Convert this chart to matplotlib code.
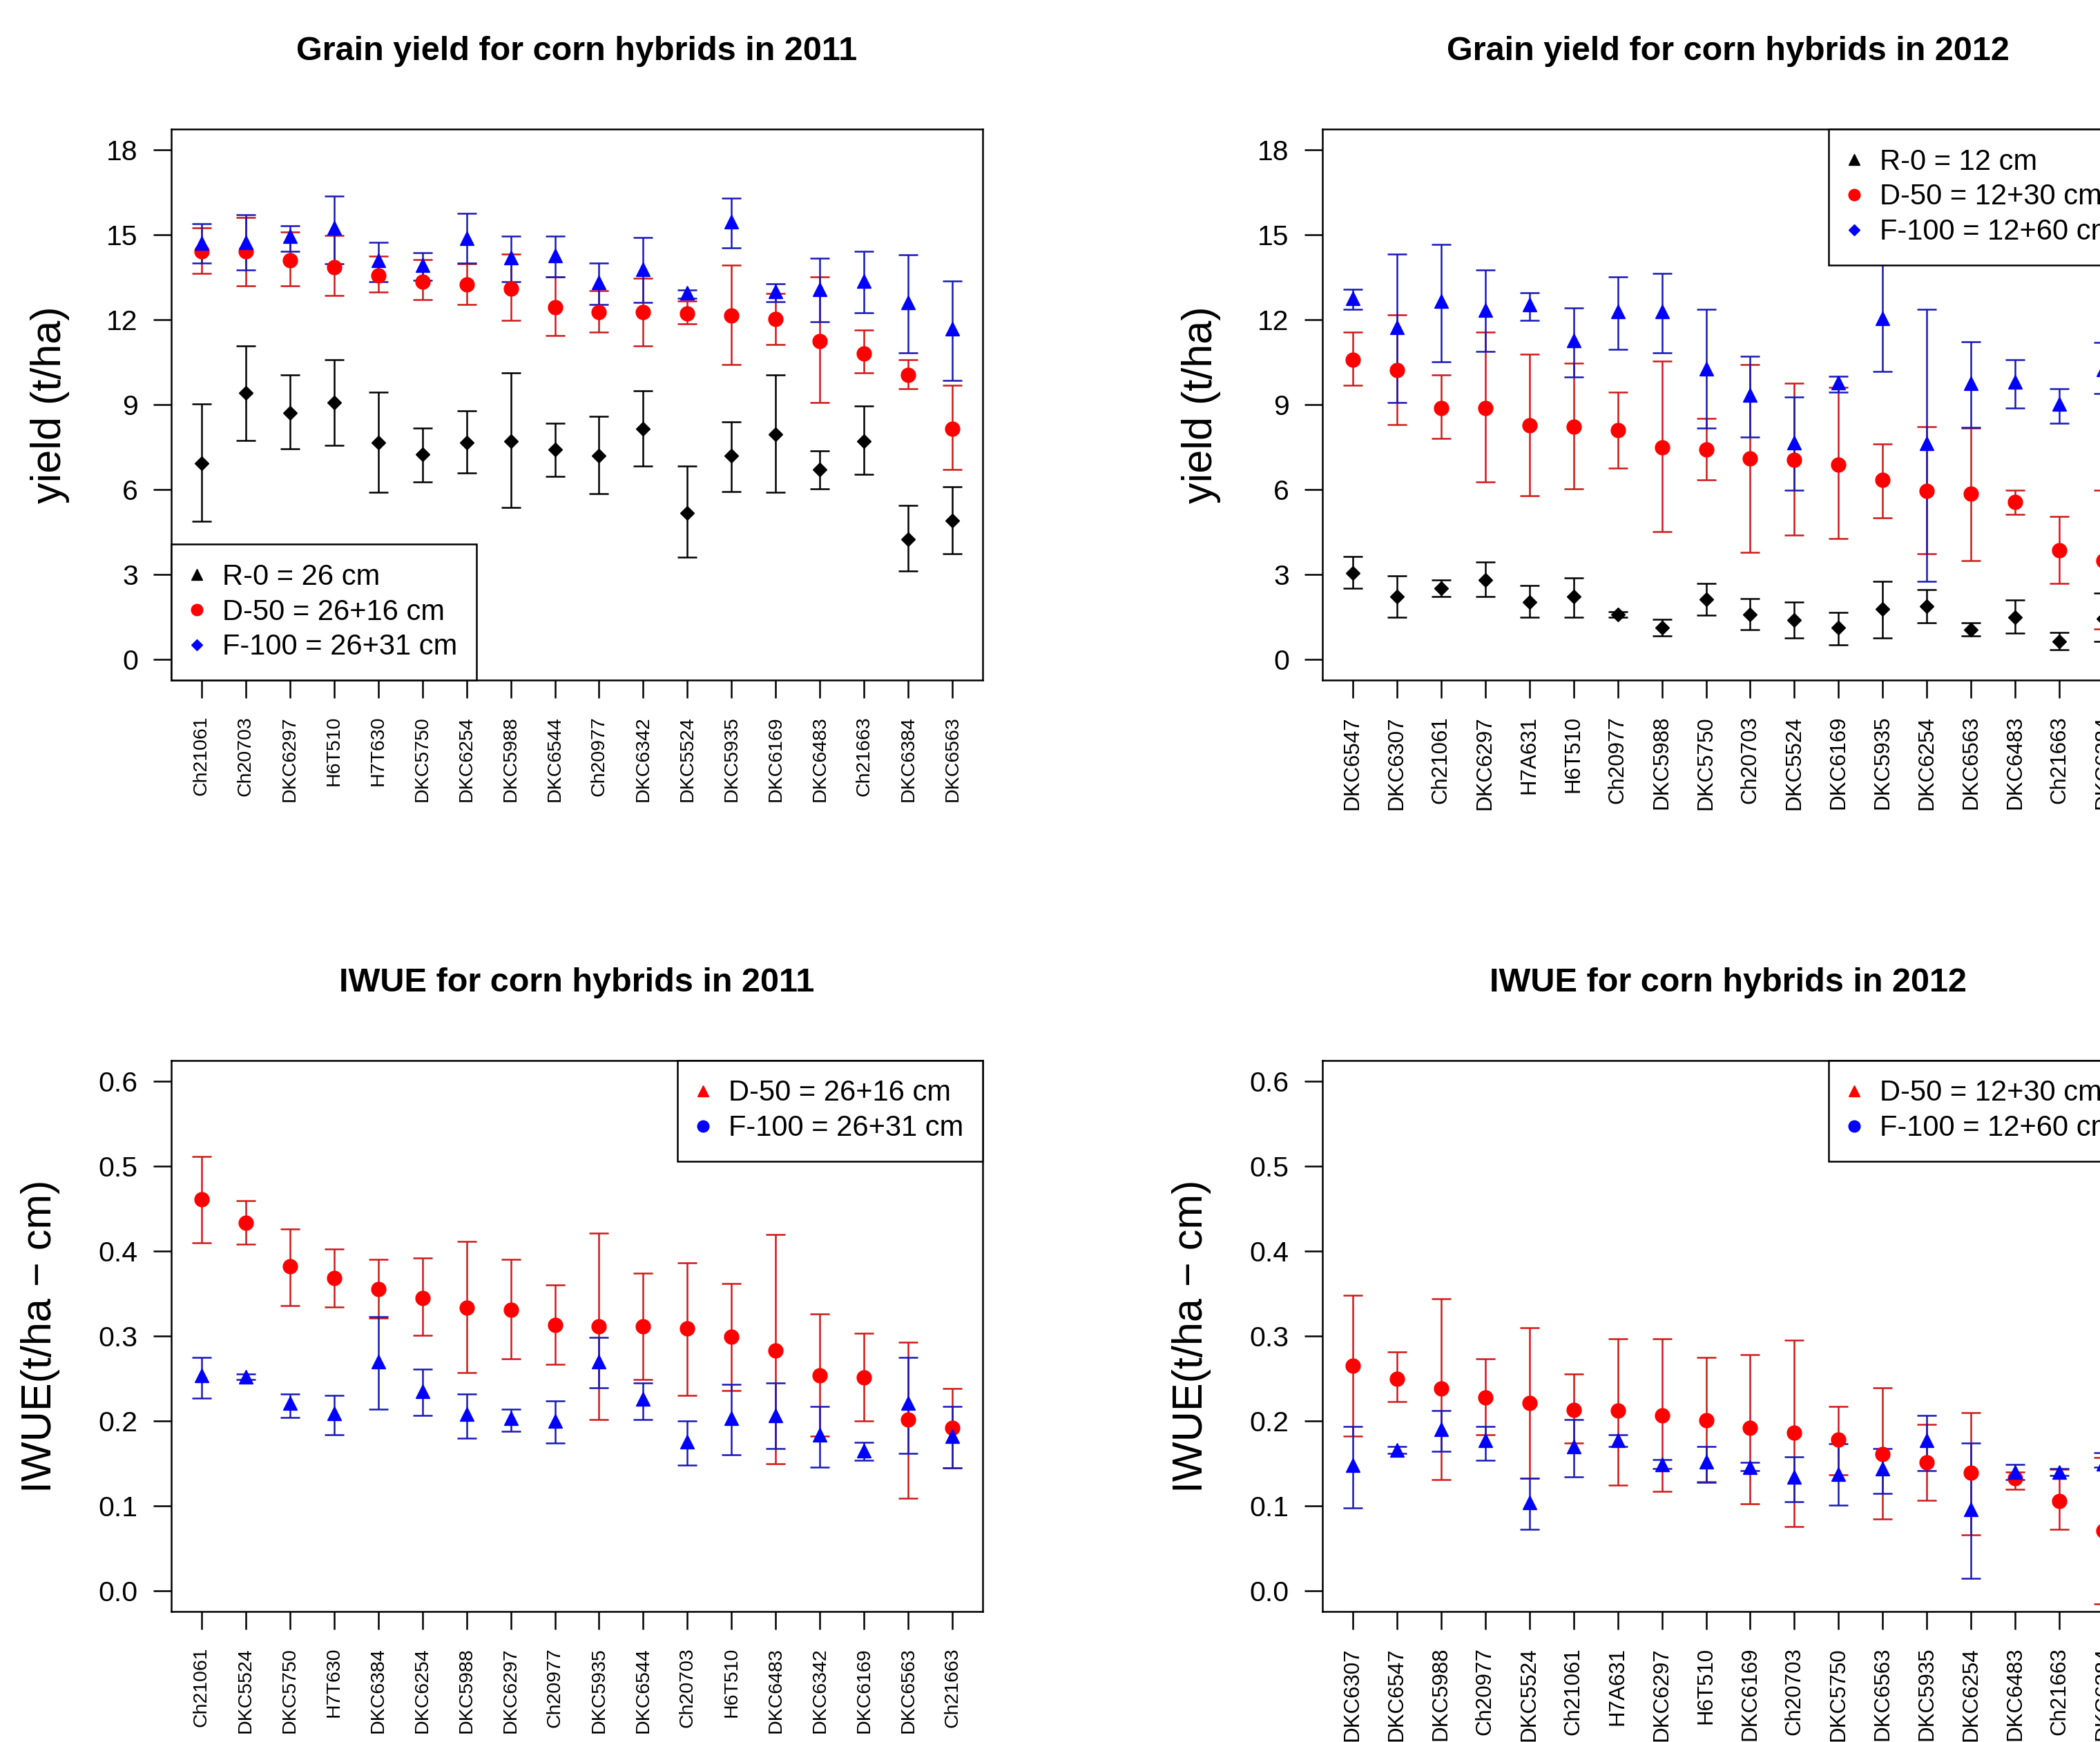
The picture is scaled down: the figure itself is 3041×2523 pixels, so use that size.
import matplotlib
matplotlib.use("Agg")
import matplotlib.pyplot as plt
from matplotlib.lines import Line2D
import numpy as np

plt.rcParams['font.family'] = ['Liberation Sans', 'DejaVu Sans']

# ---------------- Grain yield 2011 ----------------
hyb_yield_2011 = ["Ch21061", "Ch20703", "DKC6297", "H6T510", "H7T630", "DKC5750", "DKC6254",
                  "DKC5988", "DKC6544", "Ch20977", "DKC6342", "DKC5524", "DKC5935", "DKC6169",
                  "DKC6483", "Ch21663", "DKC6384", "DKC6563"]
r0_y11 = [6.93, 9.41, 8.70, 9.08, 7.66, 7.24, 7.66, 7.72, 7.42, 7.19, 8.14, 5.18, 7.19, 7.95, 6.70, 7.72, 4.26, 4.90]
r0_y11_lo = [4.89, 7.74, 7.43, 7.56, 5.90, 6.27, 6.58, 5.37, 6.46, 5.85, 6.83, 3.61, 5.92, 5.90, 6.03, 6.54, 3.12, 3.74]
r0_y11_hi = [9.02, 11.07, 10.05, 10.59, 9.43, 8.16, 8.77, 10.11, 8.35, 8.59, 9.49, 6.83, 8.40, 10.05, 7.37, 8.96, 5.45, 6.09]
d50_y11 = [14.40, 14.40, 14.10, 13.84, 13.55, 13.33, 13.23, 13.10, 12.44, 12.26, 12.26, 12.21, 12.15, 12.02, 11.25, 10.81, 10.04, 8.14]
d50_y11_lo = [13.64, 13.19, 13.19, 12.84, 12.96, 12.71, 12.53, 11.98, 11.44, 11.56, 11.07, 11.86, 10.41, 11.13, 9.07, 10.11, 9.55, 6.70]
d50_y11_hi = [15.24, 15.59, 15.08, 14.97, 14.24, 14.11, 13.98, 14.31, 13.50, 13.03, 13.45, 12.66, 13.93, 12.91, 13.50, 11.62, 10.59, 9.67]
f100_y11 = [14.69, 14.73, 14.95, 15.23, 14.08, 13.91, 14.86, 14.19, 14.27, 13.30, 13.77, 12.94, 15.46, 12.99, 13.07, 13.35, 12.60, 11.67]
f100_y11_lo = [13.99, 13.74, 14.41, 13.96, 13.33, 13.38, 13.99, 13.33, 13.51, 12.53, 12.60, 12.76, 14.53, 12.62, 11.92, 12.23, 10.83, 9.86]
f100_y11_hi = [15.39, 15.69, 15.31, 16.35, 14.72, 14.35, 15.75, 14.95, 14.95, 13.99, 14.89, 13.04, 16.28, 13.26, 14.16, 14.40, 14.29, 13.37]

# ---------------- Grain yield 2012 ----------------
hyb_yield_2012 = ["DKC6547", "DKC6307", "Ch21061", "DKC6297", "H7A631", "H6T510", "Ch20977",
                  "DKC5988", "DKC5750", "Ch20703", "DKC5524", "DKC6169", "DKC5935", "DKC6254",
                  "DKC6563", "DKC6483", "Ch21663", "DKC6384"]
r0_y12 = [3.05, 2.23, 2.52, 2.82, 2.04, 2.23, 1.59, 1.12, 2.14, 1.59, 1.40, 1.12, 1.78, 1.88, 1.06, 1.50, 0.64, 1.46]
r0_y12_lo = [2.52, 1.49, 2.23, 2.23, 1.49, 1.49, 1.49, 0.83, 1.56, 1.07, 0.76, 0.52, 0.76, 1.30, 0.83, 0.94, 0.34, 0.64]
r0_y12_hi = [3.63, 2.95, 2.82, 3.44, 2.61, 2.89, 1.68, 1.42, 2.70, 2.15, 2.04, 1.67, 2.76, 2.46, 1.30, 2.10, 0.95, 2.35]
d50_y12 = [10.59, 10.23, 8.88, 8.88, 8.27, 8.21, 8.09, 7.48, 7.42, 7.10, 7.06, 6.87, 6.34, 5.95, 5.85, 5.56, 3.85, 3.50]
d50_y12_lo = [9.68, 8.30, 7.80, 6.27, 5.79, 6.04, 6.77, 4.52, 6.34, 3.78, 4.40, 4.27, 5.00, 3.73, 3.49, 5.13, 2.70, 1.08]
d50_y12_hi = [11.55, 12.16, 10.05, 11.55, 10.79, 10.47, 9.43, 10.53, 8.52, 10.41, 9.75, 9.61, 7.61, 8.23, 8.17, 5.98, 5.06, 5.98]
f100_y12 = [12.75, 11.74, 12.66, 12.34, 12.53, 11.26, 12.28, 12.28, 10.27, 9.33, 7.67, 9.77, 12.05, 7.63, 9.76, 9.81, 9.02, 10.24]
f100_y12_lo = [12.37, 9.07, 10.52, 10.88, 11.96, 9.97, 10.95, 10.83, 8.17, 7.86, 5.98, 9.45, 10.17, 2.76, 8.19, 8.88, 8.35, 9.38]
f100_y12_hi = [13.08, 14.31, 14.66, 13.74, 12.95, 12.40, 13.50, 13.63, 12.35, 10.71, 9.26, 9.99, 14.00, 12.35, 11.21, 10.59, 9.55, 11.20]

# ---------------- IWUE 2011 ----------------
hyb_iwue_2011 = ["Ch21061", "DKC5524", "DKC5750", "H7T630", "DKC6384", "DKC6254", "DKC5988",
                 "DKC6297", "Ch20977", "DKC5935", "DKC6544", "Ch20703", "H6T510", "DKC6483",
                 "DKC6342", "DKC6169", "DKC6563", "Ch21663"]
d50_i11 = [0.461, 0.433, 0.382, 0.368, 0.355, 0.345, 0.333, 0.331, 0.313, 0.311, 0.311, 0.309, 0.299, 0.283, 0.254, 0.251, 0.202, 0.192]
d50_i11_lo = [0.410, 0.408, 0.336, 0.334, 0.321, 0.301, 0.257, 0.273, 0.267, 0.202, 0.249, 0.230, 0.236, 0.150, 0.182, 0.200, 0.109, 0.145]
d50_i11_hi = [0.511, 0.459, 0.426, 0.402, 0.390, 0.392, 0.411, 0.390, 0.360, 0.421, 0.374, 0.386, 0.362, 0.419, 0.326, 0.303, 0.293, 0.238]
f100_i11 = [0.254, 0.252, 0.221, 0.209, 0.270, 0.235, 0.208, 0.203, 0.200, 0.270, 0.226, 0.176, 0.203, 0.207, 0.184, 0.165, 0.221, 0.182]
f100_i11_lo = [0.227, 0.249, 0.204, 0.184, 0.214, 0.207, 0.180, 0.188, 0.174, 0.239, 0.202, 0.148, 0.160, 0.168, 0.146, 0.154, 0.162, 0.145]
f100_i11_hi = [0.275, 0.255, 0.232, 0.230, 0.323, 0.261, 0.232, 0.214, 0.224, 0.298, 0.245, 0.200, 0.243, 0.245, 0.217, 0.175, 0.275, 0.217]

# ---------------- IWUE 2012 ----------------
hyb_iwue_2012 = ["DKC6307", "DKC6547", "DKC5988", "Ch20977", "DKC5524", "Ch21061", "H7A631",
                 "DKC6297", "H6T510", "DKC6169", "Ch20703", "DKC5750", "DKC6563", "DKC5935",
                 "DKC6254", "DKC6483", "Ch21663", "DKC6384"]
d50_i12 = [0.265, 0.250, 0.238, 0.228, 0.221, 0.213, 0.212, 0.207, 0.201, 0.192, 0.186, 0.178, 0.161, 0.151, 0.139, 0.133, 0.106, 0.071]
d50_i12_lo = [0.182, 0.223, 0.131, 0.184, 0.133, 0.174, 0.125, 0.117, 0.129, 0.103, 0.076, 0.137, 0.085, 0.107, 0.066, 0.120, 0.073, -0.015]
d50_i12_hi = [0.348, 0.281, 0.344, 0.273, 0.310, 0.255, 0.297, 0.297, 0.275, 0.278, 0.295, 0.217, 0.239, 0.196, 0.210, 0.140, 0.143, 0.157]
f100_i12 = [0.148, 0.166, 0.190, 0.177, 0.104, 0.170, 0.177, 0.149, 0.152, 0.146, 0.134, 0.138, 0.144, 0.177, 0.096, 0.140, 0.140, 0.150]
f100_i12_lo = [0.098, 0.162, 0.164, 0.154, 0.073, 0.134, 0.170, 0.144, 0.128, 0.142, 0.105, 0.101, 0.115, 0.142, 0.015, 0.131, 0.136, 0.146]
f100_i12_hi = [0.194, 0.170, 0.212, 0.194, 0.133, 0.202, 0.184, 0.155, 0.170, 0.151, 0.158, 0.173, 0.168, 0.207, 0.174, 0.149, 0.144, 0.163]

BLACK = "#000000"
RED_M, RED_E = "#FF0000", "#D01818"
BLUE_M, BLUE_E = "#0000FF", "#1818B8"

W, H = 3041, 2523
fig = plt.figure(figsize=(W / 100, H / 100), dpi=100)
fig.patch.set_facecolor("white")

ax_w = 1175 / W
ax_h = 798 / H
pos = {
    "tl": [248 / W, (H - 985) / H, ax_w, ax_h],
    "tr": [1915 / W, (H - 985) / H, ax_w, ax_h],
    "bl": [248 / W, (H - 2334) / H, ax_w, ax_h],
    "br": [1915 / W, (H - 2334) / H, ax_w, ax_h],
}


def series(ax, x, mean, lo, hi, marker, mcol, ecol, ms):
    mean = np.asarray(mean)
    err = [mean - np.asarray(lo), np.asarray(hi) - mean]
    ax.errorbar(x, mean, yerr=err, fmt=marker, color=mcol, mfc=mcol, mec=mcol, ms=ms,
                ecolor=ecol, elinewidth=1.8, capsize=10, capthick=1.8, zorder=3)


def setup(ax, labels, title, ylabel, ylim, yticks, ylab_x, xfs):
    n = len(labels)
    x = np.arange(1, n + 1)
    ax.set_xlim(1 - 0.04 * (n - 1), n + 0.04 * (n - 1))
    rng = ylim[1] - ylim[0]
    ax.set_ylim(ylim[0] - 0.04 * rng, ylim[1] + 0.04 * rng)
    ax.set_xticks(x)
    ax.set_xticklabels(labels, rotation=90, fontsize=xfs)
    ax.set_yticks(yticks)
    ax.set_yticklabels([("%g" % t) if ylim[1] > 1 else ("%.1f" % t) for t in yticks], fontsize=29.5)
    ax.tick_params(axis="both", direction="out", length=18.7, width=1.8, colors="black")
    ax.tick_params(axis="x", pad=18.7)
    ax.tick_params(axis="y", pad=16)
    for s in ax.spines.values():
        s.set_linewidth(1.8)
        s.set_color("black")
    ax.set_title(title, fontsize=35, fontweight="bold", pad=72)
    ax.set_ylabel(ylabel, fontsize=44)
    ax.yaxis.label.set_va("baseline")
    ax.yaxis.set_label_coords(ylab_x, 0.5)
    return x


def legend(ax, entries, loc):
    handles = [Line2D([], [], ls="none", marker=m, color=c, mfc=c, mec=c, ms=s) for m, c, s, _ in entries]
    labels = [t for _, _, _, t in entries]
    lg = ax.legend(handles, labels, loc=loc, frameon=True, fancybox=False, edgecolor="black",
                   framealpha=1, borderaxespad=0, borderpad=0.66, labelspacing=0.26,
                   handlelength=0.45, handletextpad=0.67, fontsize=30)
    lg.get_frame().set_linewidth(1.8)
    lg.set_zorder(10)


# Top-left
ax = fig.add_axes(pos["tl"])
x = setup(ax, hyb_yield_2011, "Grain yield for corn hybrids in 2011", "yield (t/ha)",
          (0, 18), [0, 3, 6, 9, 12, 15, 18], -0.136, 20.5)
series(ax, x, r0_y11, r0_y11_lo, r0_y11_hi, "D", BLACK, BLACK, 10)
series(ax, x, d50_y11, d50_y11_lo, d50_y11_hi, "o", RED_M, RED_E, 15)
series(ax, x, f100_y11, f100_y11_lo, f100_y11_hi, "^", BLUE_M, BLUE_E, 15)
legend(ax, [("^", BLACK, 12, "R-0 = 26 cm"), ("o", RED_M, 12, "D-50 = 26+16 cm"),
            ("D", BLUE_M, 8.5, "F-100 = 26+31 cm")], "lower left")

# Top-right
ax = fig.add_axes(pos["tr"])
x = setup(ax, hyb_yield_2012, "Grain yield for corn hybrids in 2012", "yield (t/ha)",
          (0, 18), [0, 3, 6, 9, 12, 15, 18], -0.136, 22.5)
series(ax, x, r0_y12, r0_y12_lo, r0_y12_hi, "D", BLACK, BLACK, 10)
series(ax, x, d50_y12, d50_y12_lo, d50_y12_hi, "o", RED_M, RED_E, 15)
series(ax, x, f100_y12, f100_y12_lo, f100_y12_hi, "^", BLUE_M, BLUE_E, 15)
legend(ax, [("^", BLACK, 12, "R-0 = 12 cm"), ("o", RED_M, 12, "D-50 = 12+30 cm"),
            ("D", BLUE_M, 8.5, "F-100 = 12+60 cm")], "upper right")

# Bottom-left
ax = fig.add_axes(pos["bl"])
x = setup(ax, hyb_iwue_2011, "IWUE for corn hybrids in 2011", "IWUE(t/ha \u2212 cm)",
          (0, 0.6), [0, 0.1, 0.2, 0.3, 0.4, 0.5, 0.6], -0.148, 20.5)
series(ax, x, d50_i11, d50_i11_lo, d50_i11_hi, "o", RED_M, RED_E, 15)
series(ax, x, f100_i11, f100_i11_lo, f100_i11_hi, "^", BLUE_M, BLUE_E, 15)
legend(ax, [("^", RED_M, 12, "D-50 = 26+16 cm"), ("o", BLUE_M, 12, "F-100 = 26+31 cm")],
       "upper right")

# Bottom-right
ax = fig.add_axes(pos["br"])
x = setup(ax, hyb_iwue_2012, "IWUE for corn hybrids in 2012", "IWUE(t/ha \u2212 cm)",
          (0, 0.6), [0, 0.1, 0.2, 0.3, 0.4, 0.5, 0.6], -0.148, 22.5)
series(ax, x, d50_i12, d50_i12_lo, d50_i12_hi, "o", RED_M, RED_E, 15)
series(ax, x, f100_i12, f100_i12_lo, f100_i12_hi, "^", BLUE_M, BLUE_E, 15)
legend(ax, [("^", RED_M, 12, "D-50 = 12+30 cm"), ("o", BLUE_M, 12, "F-100 = 12+60 cm")],
       "upper right")

fig.savefig("out.png", dpi=100, facecolor="white")
